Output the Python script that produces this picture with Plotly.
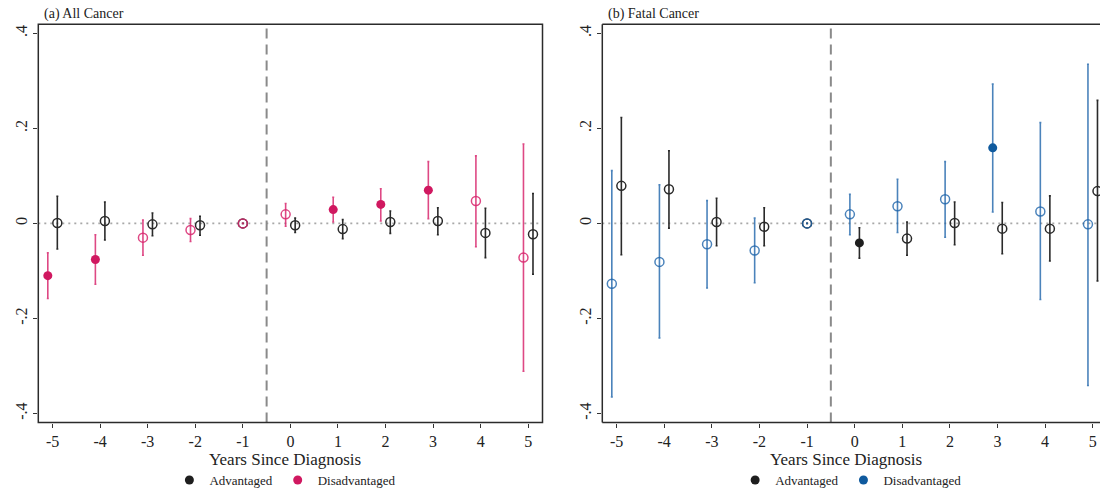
import plotly.graph_objects as go

years = [-5, -4, -3, -2, -1, 0, 1, 2, 3, 4, 5]
x_tick_labels = ["-5", "-4", "-3", "-2", "-1", "0", "1", "2", "3", "4", "5"]
y_tick_vals = [-0.4, -0.2, 0, 0.2, 0.4]
y_tick_labels = ["-.4", "-.2", "0", ".2", ".4"]

# Panel (a) All Cancer
all_adv_coef = [0.001, 0.005, -0.002, -0.004, 0.0, -0.004, -0.012, 0.003, 0.005, -0.020, -0.023]
all_adv_lo = [-0.054, -0.035, -0.026, -0.025, 0.0, -0.019, -0.032, -0.021, -0.024, -0.072, -0.107]
all_adv_hi = [0.057, 0.045, 0.022, 0.015, 0.0, 0.011, 0.008, 0.026, 0.033, 0.032, 0.063]
all_dis_coef = [-0.110, -0.076, -0.030, -0.014, 0.0, 0.019, 0.029, 0.040, 0.070, 0.047, -0.072]
all_dis_lo = [-0.158, -0.128, -0.067, -0.038, 0.0, -0.006, 0.003, 0.005, 0.010, -0.049, -0.311]
all_dis_hi = [-0.062, -0.024, 0.007, 0.010, 0.0, 0.042, 0.055, 0.073, 0.130, 0.142, 0.167]

# Panel (b) Fatal Cancer
fat_adv_coef = [0.079, 0.072, 0.003, -0.007, 0.0, -0.041, -0.032, 0.001, -0.011, -0.011, 0.068]
fat_adv_lo = [-0.066, -0.010, -0.047, -0.047, 0.0, -0.073, -0.067, -0.045, -0.064, -0.079, -0.121]
fat_adv_hi = [0.223, 0.153, 0.053, 0.033, 0.0, -0.009, 0.003, 0.045, 0.044, 0.058, 0.259]
fat_dis_coef = [-0.127, -0.081, -0.044, -0.057, 0.0, 0.019, 0.036, 0.051, 0.159, 0.025, -0.002]
fat_dis_lo = [-0.365, -0.241, -0.136, -0.125, 0.0, -0.024, -0.019, -0.029, 0.024, -0.160, -0.341]
fat_dis_hi = [0.111, 0.081, 0.048, 0.011, 0.0, 0.061, 0.093, 0.130, 0.293, 0.212, 0.335]

panel_titles = ["(a) All Cancer", "(b) Fatal Cancer"]
series_names = ["Advantaged", "Disadvantaged"]
x_title = "Years Since Diagnosis"

FONT = "Liberation Serif"
BLACK_M = "#1e1e1e"
BLACK_L = "#2a2a2a"
PINK_M = "#d01860"
PINK_L = "rgba(216,40,110,0.85)"
BLUE_M = "#0f5a9e"
BLUE_L = "rgba(30,100,170,0.8)"

fig = go.Figure()

panels = [
    dict(x="x", y="y", adv=(all_adv_coef, all_adv_lo, all_adv_hi),
         dis=(all_dis_coef, all_dis_lo, all_dis_hi), dm=PINK_M, dl=PINK_L, legend="legend"),
    dict(x="x2", y="y2", adv=(fat_adv_coef, fat_adv_lo, fat_adv_hi),
         dis=(fat_dis_coef, fat_dis_lo, fat_dis_hi), dm=BLUE_M, dl=BLUE_L, legend="legend2"),
]

OFFSET = 0.1


def add_series(p, data, offset, mcol, lcol, name):
    coef, lo, hi = data
    for sig in (False, True):
        xs, ys, ep, em = [], [], [], []
        for yr, c, l, h in zip(years, coef, lo, hi):
            is_sig = (l > 0) or (h < 0)
            if is_sig != sig:
                continue
            xs.append(yr if yr == -1 else yr + offset)
            ys.append(c)
            ep.append(h - c)
            em.append(c - l)
        if not xs:
            continue
        fig.add_trace(go.Scatter(
            x=xs, y=ys, mode="markers", xaxis=p["x"], yaxis=p["y"],
            showlegend=False, name=name,
            marker=dict(
                symbol="circle" if sig else "circle-open",
                size=9,
                color=mcol if sig else lcol,
                line=dict(width=1.5 if not sig else 0, color=mcol if sig else lcol),
            ),
            error_y=dict(type="data", array=ep, arrayminus=em, symmetric=False,
                         color=lcol, thickness=1.6, width=1),
        ))


for p in panels:
    add_series(p, p["adv"], OFFSET, BLACK_M, BLACK_L, "Advantaged")
    add_series(p, p["dis"], -OFFSET, p["dm"], p["dl"], "Disadvantaged")
    # legend entries
    for nm, col in zip(series_names, [BLACK_M, p["dm"]]):
        fig.add_trace(go.Scatter(
            x=[None], y=[None], mode="markers", name=nm, xaxis=p["x"], yaxis=p["y"],
            marker=dict(symbol="circle", size=9, color=col),
            legend=p["legend"], showlegend=True,
        ))

W, H = 1100, 495
y_dom = [1 - 422.5 / H, 1 - 24.3 / H]
x_dom1 = [38.3 / W, 542.5 / W]
x_dom2 = [602.3 / W, 1.0]

axis_common = dict(
    showgrid=False, zeroline=False, showline=False,
    ticks="outside", ticklen=4, tickwidth=1.2, tickcolor="#333",
    tickfont=dict(family=FONT, size=16, color="#222"),
)

legend_common = dict(orientation="h", xanchor="center", y=0, yanchor="bottom",
                     font=dict(family=FONT, size=13, color="#222"),
                     bgcolor="rgba(0,0,0,0)")

fig.update_layout(
    width=W, height=H,
    margin=dict(l=0, r=0, t=0, b=0),
    paper_bgcolor="white", plot_bgcolor="white",
    font=dict(family=FONT, color="#222"),
    xaxis=dict(domain=x_dom1, anchor="y", range=[-5.3, 5.3],
               tickmode="array", tickvals=years, ticktext=x_tick_labels,
               **axis_common),
    yaxis=dict(domain=y_dom, anchor="x", range=[-0.419, 0.419],
               tickmode="array", tickvals=y_tick_vals, ticktext=y_tick_labels,
               tickangle=-90, **axis_common),
    xaxis2=dict(domain=x_dom2, anchor="y2", range=[-5.3, 5.3 - 7.0 / 47.6],
                tickmode="array", tickvals=years, ticktext=x_tick_labels,
                **axis_common),
    yaxis2=dict(domain=y_dom, anchor="x2", range=[-0.419, 0.419],
                tickmode="array", tickvals=y_tick_vals, ticktext=y_tick_labels,
                tickangle=-90, **axis_common),
    legend=dict(x=(x_dom1[0] + x_dom1[1]) / 2 - 5 / W, **legend_common),
    legend2=dict(x=(x_dom2[0] + x_dom2[1]) / 2, **legend_common),
)

shapes = []
for xr, yr in [("x", "y"), ("x2", "y2")]:
    # zero reference (dotted)
    shapes.append(dict(type="line", xref=f"{xr} domain", yref=yr, x0=0, x1=1, y0=0, y1=0,
                       line=dict(color="#a8a8a8", width=1.6, dash="2px,4px"), layer="below"))
    # event line (dashed)
    shapes.append(dict(type="line", xref=xr, yref=f"{yr} domain", x0=-0.5, x1=-0.5, y0=0, y1=1,
                       line=dict(color="#8a8a8a", width=2, dash="10px,6px"), layer="below"))

frame = dict(color="#2b2b2b", width=1.5)
# panel (a) full frame
shapes.append(dict(type="rect", xref="x domain", yref="y domain", x0=0, x1=1, y0=0, y1=1,
                   line=frame, layer="above"))
# panel (b): left, top, bottom (right side cut by the image edge)
for (x0, y0, x1, y1) in [(0, 0, 0, 1), (0, 1, 1, 1), (0, 0, 1, 0)]:
    shapes.append(dict(type="line", xref="x2 domain", yref="y2 domain",
                       x0=x0, y0=y0, x1=x1, y1=y1, line=frame, layer="above"))
fig.update_layout(shapes=shapes)

for title, dom in zip(panel_titles, [x_dom1, x_dom2]):
    fig.add_annotation(text=title, xref="paper", yref="paper",
                       x=dom[0] + 4 / W, y=1 - 4 / H, xanchor="left", yanchor="top",
                       showarrow=False, font=dict(family=FONT, size=14, color="#222"))
    # x-axis title
    fig.add_annotation(text=x_title, xref="paper", yref="paper",
                       x=(dom[0] + dom[1]) / 2 - 5 / W, y=1 - 459 / H,
                       xanchor="center", yanchor="middle", showarrow=False,
                       font=dict(family=FONT, size=17, color="#222"))

fig.write_html("out.html")
